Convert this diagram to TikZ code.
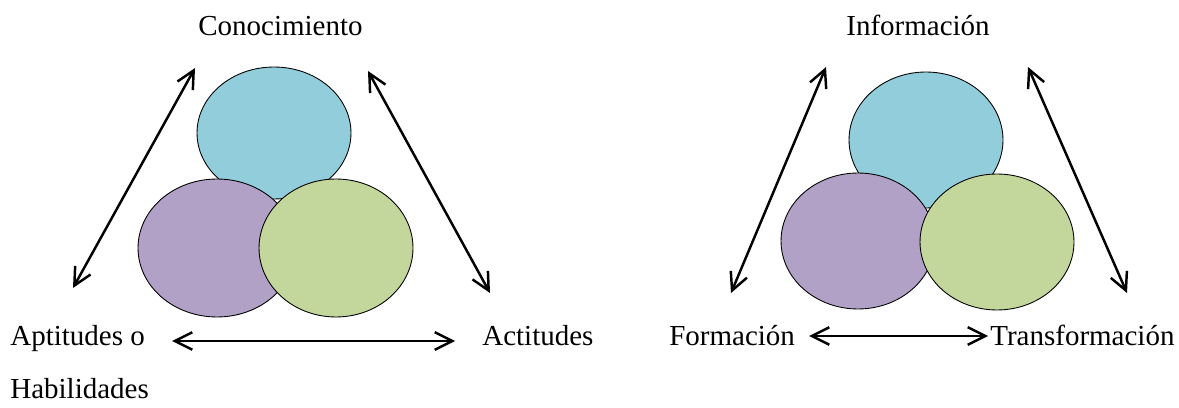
\documentclass[tikz,border=0pt]{standalone}
\usepackage{fontspec}
\setmainfont{Liberation Serif}
\usetikzlibrary{arrows.meta,shapes.geometric}
\definecolor{azul}{HTML}{92CDDC}
\definecolor{lila}{HTML}{B2A1C7}
\definecolor{verde}{HTML}{C3D69B}

\begin{document}
\begin{tikzpicture}[x=0.02cm, y=-0.02cm,
    bola/.style={draw, ellipse, line width=0.5pt, inner sep=0pt},
    lbl/.style={inner sep=0pt, font=\fontsize{16.5}{20}\selectfont},
    arr/.style={{Straight Barb[length=10pt,width=10pt]}-{Straight Barb[length=10pt,width=10pt]}, line width=1.4pt}
]
\useasboundingbox (0,0) rectangle (1179,408);

% primer triangulo
\node[bola, fill=azul, minimum width=3.08cm, minimum height=2.64cm] (c1) at (274,133) {};
\node[bola, fill=lila, minimum width=3.16cm, minimum height=2.76cm] (c2) at (217,248) {};
\node[bola, fill=verde, minimum width=3.08cm, minimum height=2.76cm] (c3) at (336,248) {};

\node[lbl, anchor=base] (con) at (280.5,36) {Conocimiento};
\node[lbl, anchor=base west] (apt) at (10,345) {Aptitudes o};
\node[lbl, anchor=base west] (hab) at (10,398) {Habilidades};
\node[lbl, anchor=base west] (act) at (482,345) {Actitudes};

\coordinate (a1) at (195,68);
\coordinate (a2) at (73,288);
\coordinate (a3) at (368,71);
\coordinate (a4) at (490,293);
\coordinate (a5) at (172,341);
\coordinate (a6) at (455,341);
\draw[arr] (a2) -- (a1);
\draw[arr] (a3) -- (a4);
\draw[arr] (a5) -- (a6);

% segundo triangulo
\node[bola, fill=azul, minimum width=3.08cm, minimum height=2.72cm] (d1) at (926,140) {};
\node[bola, fill=lila, minimum width=3.08cm, minimum height=2.72cm] (d2) at (858,241) {};
\node[bola, fill=verde, minimum width=3.08cm, minimum height=2.72cm] (d3) at (997,242) {};

\node[lbl, anchor=base] (inf) at (918,36) {Información};
\node[lbl, anchor=base west] (for) at (669,345) {Formación};
\node[lbl, anchor=base west] (tra) at (990,345) {Transformación};

\coordinate (b1) at (826,67);
\coordinate (b2) at (731,293);
\coordinate (b3) at (1028,67);
\coordinate (b4) at (1127,293);
\coordinate (b5) at (809,336);
\coordinate (b6) at (988,336);
\draw[arr] (b2) -- (b1);
\draw[arr] (b3) -- (b4);
\draw[arr] (b5) -- (b6);
\end{tikzpicture}
\end{document}
